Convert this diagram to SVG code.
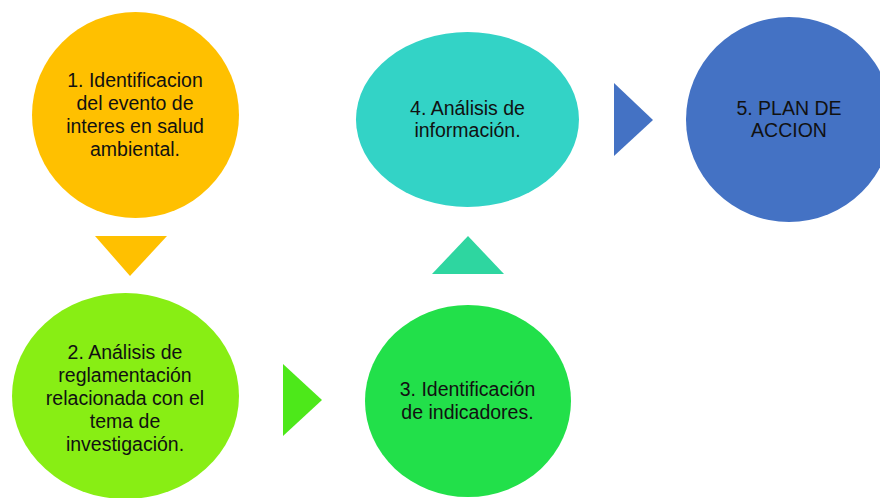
<svg xmlns="http://www.w3.org/2000/svg" width="880" height="498" viewBox="0 0 880 498">
<style>
text{font-family:"Liberation Sans",Arial,sans-serif;font-size:19.5px;fill:#111;text-anchor:middle}
</style>
<rect width="880" height="498" fill="#fff"/>
<g id="connectors">
<polygon points="95,236 167,236 130,276" fill="#FFC000"/>
<polygon points="283,364 322,400 283,436" fill="#4DE81A"/>
<polygon points="432,274 504,274 468,236" fill="#2ED6A0"/>
<polygon points="614,83 653,120 614,156" fill="#4472C4"/>
</g>
<g id="node1">
<ellipse cx="135.5" cy="115" rx="103.5" ry="103" fill="#FFC000"/>
<text x="135" y="87">1. Identificacion</text>
<text x="135" y="110">del evento de</text>
<text x="135" y="133">interes en salud</text>
<text x="135" y="156">ambiental.</text>
</g>
<g id="node2">
<ellipse cx="125.5" cy="396" rx="113.5" ry="103" fill="#88EE14"/>
<text x="125" y="359">2. Análisis de</text>
<text x="125" y="382">reglamentación</text>
<text x="125" y="405">relacionada con el</text>
<text x="125" y="428">tema de</text>
<text x="125" y="451">investigación.</text>
</g>
<g id="node3">
<ellipse cx="468" cy="401" rx="103" ry="96" fill="#22E04A"/>
<text x="467.5" y="396">3. Identificación</text>
<text x="467.5" y="419">de indicadores.</text>
</g>
<g id="node4">
<ellipse cx="467.5" cy="119.5" rx="111.5" ry="87.5" fill="#33D3C6"/>
<text x="467.5" y="115">4. Análisis de</text>
<text x="467.5" y="137">información.</text>
</g>
<g id="node5">
<ellipse cx="789" cy="119.5" rx="103" ry="102.5" fill="#4472C4"/>
<text x="789" y="115">5. PLAN DE</text>
<text x="789" y="137">ACCION</text>
</g>
</svg>
